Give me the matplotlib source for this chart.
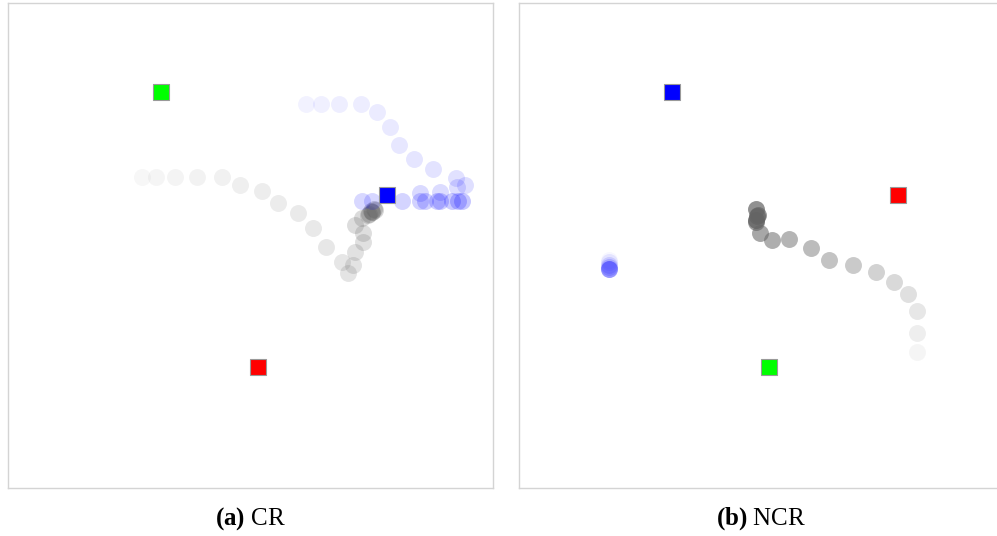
import numpy as np
import matplotlib.pyplot as plt

plt.rcParams['mathtext.fontset'] = 'custom'
plt.rcParams['mathtext.rm'] = 'Liberation Serif'
plt.rcParams['mathtext.bf'] = 'Liberation Serif:bold'

# landmark positions in the arena ([-1, 1] on both axes)
landmarks = [(-0.37, 0.633), (0.031, -0.501), (0.563, 0.208)]
colors_cr = ['#00ff00', '#ff0000', '#0000ff']
colors_ncr = ['#0000ff', '#00ff00', '#ff0000']

# CR: gray agent path (oldest first)
cr_gray_x = [-0.447, -0.390, -0.311, -0.221, -0.118, -0.043, 0.047, 0.113, 0.196,
             0.258, 0.311, 0.377, 0.402, 0.423, 0.431, 0.464, 0.464, 0.431, 0.460,
             0.485, 0.501, 0.513, 0.500, 0.490, 0.508, 0.498]
cr_gray_y = [0.282, 0.282, 0.282, 0.282, 0.282, 0.249, 0.225, 0.175, 0.134,
             0.072, -0.006, -0.068, -0.113, -0.080, -0.027, 0.014, 0.052, 0.085, 0.113,
             0.126, 0.138, 0.146, 0.140, 0.130, 0.150, 0.142]

# CR: blue agent path
cr_blue_x = [0.229, 0.291, 0.365, 0.456, 0.522, 0.575, 0.612, 0.674, 0.753, 0.847,
             0.885, 0.851, 0.781, 0.699, 0.460, 0.501, 0.625, 0.699, 0.720, 0.769,
             0.781, 0.831, 0.856, 0.872]
cr_blue_y = [0.584, 0.584, 0.584, 0.584, 0.551, 0.489, 0.414, 0.357, 0.315, 0.278,
             0.249, 0.241, 0.221, 0.216, 0.184, 0.184, 0.184, 0.184, 0.184, 0.184,
             0.184, 0.184, 0.184, 0.184]

# NCR: gray agent path
ncr_gray_x = [0.641, 0.641, 0.641, 0.604, 0.546, 0.472, 0.377, 0.278, 0.204, 0.113,
              0.043, -0.006, -0.023, -0.015, -0.023, -0.020, -0.022]
ncr_gray_y = [-0.439, -0.361, -0.270, -0.200, -0.151, -0.109, -0.080, -0.060, -0.010, 0.027,
              0.023, 0.052, 0.097, 0.126, 0.151, 0.120, 0.105]

# NCR: blue agent barely moves
ncr_blue_x = [-0.629, -0.629, -0.629, -0.629, -0.629, -0.629]
ncr_blue_y = [-0.060, -0.070, -0.080, -0.090, -0.095, -0.097]

fig = plt.figure(figsize=(9.97, 5.36), dpi=100)
ax_a = fig.add_axes([8 / 997, 48 / 536, 485 / 997, 485 / 536])
ax_b = fig.add_axes([519 / 997, 48 / 536, 485 / 997, 485 / 536])


def draw_path(ax, xs, ys, color, a0, a1):
    alphas = np.linspace(a0, a1, len(xs))
    for x, y, a in zip(xs, ys, alphas):
        ax.plot(x, y, 'o', ms=12.2, color=color, alpha=a, mec='none', zorder=2)


def draw_landmarks(ax, colors):
    for (x, y), c in zip(landmarks, colors):
        ax.plot(x, y, 's', ms=11.5, color=c, mec='#999999', mew=0.8, zorder=5)


draw_path(ax_a, cr_gray_x, cr_gray_y, '#646464', 0.05, 0.3)
draw_path(ax_a, cr_blue_x, cr_blue_y, '#0000ff', 0.05, 0.22)
draw_landmarks(ax_a, colors_cr)

draw_path(ax_b, ncr_gray_x, ncr_gray_y, '#646464', 0.06, 0.8)
draw_path(ax_b, ncr_blue_x, ncr_blue_y, '#0000ff', 0.03, 0.25)
draw_landmarks(ax_b, colors_ncr)

for ax, label in [(ax_a, r'$\mathbf{(a)}$ CR'), (ax_b, r'$\mathbf{(b)}$ NCR')]:
    ax.set_xlim(-1, 1)
    ax.set_ylim(-1, 1)
    ax.set_xticks([])
    ax.set_yticks([])
    for sp in ax.spines.values():
        sp.set_color('#d4d4d4')
        sp.set_linewidth(1.0)
    ax.text(0.5, -0.064, label, transform=ax.transAxes, ha='center', va='center',
            fontsize=18, family='Liberation Serif')

fig.savefig('out.png', dpi=100)
